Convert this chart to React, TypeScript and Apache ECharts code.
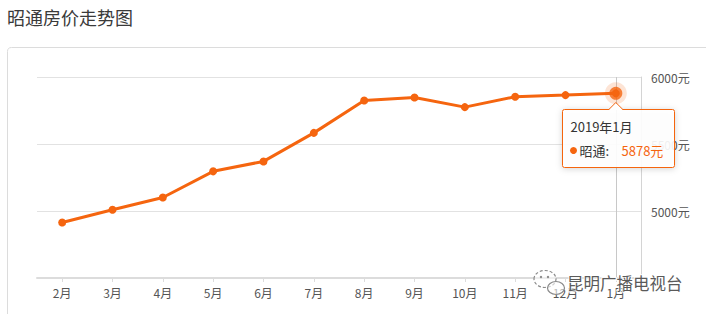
import React, { useEffect, useRef } from "react";
import * as echarts from "echarts";

const months = ["2月", "3月", "4月", "5月", "6月", "7月", "8月", "9月", "10月", "11月", "12月", "1月"];
const prices = [4914, 5009, 5101, 5296, 5370, 5583, 5825, 5847, 5775, 5853, 5865, 5878];
const yMin = 4500;
const yMax = 6000;
const yInterval = 500;
const seriesName = "昭通";
const tooltipTitle = "2019年1月";
const chartTitle = "昭通房价走势图";
const watermark = "昆明广播电视台";
const unit = "元";

const ORANGE = "#f5650f";
const FONT = "'Noto Sans CJK SC', 'Noto Sans', sans-serif";

export default function App() {
  const ref = useRef<HTMLDivElement>(null);
  useEffect(() => {
    document.body.style.margin = "0";
    const chart = echarts.init(ref.current!, null, { renderer: "svg" });
    const last = prices.length - 1;
    const single = prices.map((v, i) => (i === last ? v : "-"));
    chart.setOption({
      animation: false,
      textStyle: { fontFamily: FONT },
      grid: { left: 37, right: 65, top: 77, bottom: 36 },
      xAxis: {
        type: "category",
        data: months,
        boundaryGap: true,
        axisLine: { lineStyle: { color: "#dcdcdc", width: 2 } },
        axisTick: { show: true, alignWithLabel: true, length: 4, lineStyle: { color: "#dcdcdc" } },
        axisLabel: { color: "#555", fontSize: 12, margin: 8, fontFamily: FONT },
        splitLine: { show: false },
      },
      yAxis: {
        type: "value",
        position: "right",
        min: yMin,
        max: yMax,
        interval: yInterval,
        axisLine: { show: true, lineStyle: { color: "#d4d4d4", width: 1 } },
        axisTick: { show: false },
        axisLabel: {
          color: "#555",
          fontSize: 12,
          margin: 10,
          showMinLabel: false,
          fontFamily: FONT,
          formatter: (v: number) => v + unit,
        },
        splitLine: { lineStyle: { color: "#e2e2e2", width: 1 } },
      },
      series: [
        {
          name: seriesName,
          type: "line",
          data: prices,
          symbol: "circle",
          symbolSize: 8,
          showSymbol: true,
          itemStyle: { color: ORANGE },
          lineStyle: { color: ORANGE, width: 3 },
          z: 3,
        },
        {
          type: "scatter",
          data: single,
          symbol: "circle",
          symbolSize: 22,
          silent: true,
          itemStyle: { color: "rgba(245,101,15,0.22)" },
          z: 4,
        },
        {
          type: "scatter",
          data: single,
          symbol: "circle",
          symbolSize: 13,
          silent: true,
          itemStyle: { color: ORANGE },
          z: 5,
        },
      ],
    });

    const [px, py] = chart.convertToPixel({ seriesIndex: 0 }, [last, prices[last]]) as number[];
    const yTop = chart.convertToPixel({ yAxisIndex: 0 }, yMax) as number;
    const yBot = chart.convertToPixel({ yAxisIndex: 0 }, yMin) as number;
    const bw = 112;
    const bh = 58;
    const bx = Math.round(px - 54) + 0.5;
    const by = Math.round(py + 16) + 0.5;

    chart.setOption({
      graphic: [
        {
          type: "text",
          left: 7,
          top: 8,
          style: { text: chartTitle, fontSize: 18, fill: "#3a3a3a", fontFamily: FONT },
        },
        {
          type: "rect",
          shape: { x: 7.5, y: 47.5, width: 760, height: 320, r: 4 },
          style: { fill: "none", stroke: "#dcdcdc", lineWidth: 1 },
          silent: true,
          z: -1,
        },
        {
          type: "line",
          shape: { x1: Math.round(px) + 0.5, y1: yTop, x2: Math.round(px) + 0.5, y2: yBot },
          style: { stroke: "#c8c8c8", lineWidth: 1 },
          silent: true,
          z: 1,
        },
        {
          type: "group",
          z: 100,
          children: [
            {
              type: "rect",
              shape: { x: bx, y: by, width: bw, height: bh, r: 2 },
              style: {
                fill: "rgba(255,255,255,0.9)",
                stroke: ORANGE,
                lineWidth: 1,
                shadowBlur: 6,
                shadowColor: "rgba(0,0,0,0.18)",
                shadowOffsetY: 1,
              },
              z: 100,
            },
            {
              type: "polygon",
              shape: { points: [[px - 7, by + 0.6], [px, by - 6.5], [px + 7, by + 0.6]] },
              style: { fill: "#fff" },
              z: 101,
            },
            {
              type: "polyline",
              shape: { points: [[px - 7, by], [px, by - 7], [px + 7, by]] },
              style: { stroke: ORANGE, lineWidth: 1, fill: "none" },
              z: 102,
            },
            {
              type: "text",
              x: bx + 8,
              y: by + 17,
              style: { text: tooltipTitle, fontSize: 13, fill: "#333", verticalAlign: "middle", fontFamily: FONT },
              z: 103,
            },
            {
              type: "circle",
              shape: { cx: bx + 11, cy: by + 41, r: 3.5 },
              style: { fill: ORANGE },
              z: 103,
            },
            {
              type: "text",
              x: bx + 17,
              y: by + 41,
              style: { text: seriesName + ":", fontSize: 13, fill: "#333", verticalAlign: "middle", fontFamily: FONT },
              z: 103,
            },
            {
              type: "text",
              x: bx + 59,
              y: by + 41,
              style: { text: prices[last] + unit, fontSize: 13, fill: ORANGE, verticalAlign: "middle", fontFamily: FONT },
              z: 103,
            },
          ],
        },
        {
          type: "group",
          z: 200,
          silent: true,
          children: [
            {
              type: "ellipse",
              shape: { cx: 545, cy: 279, rx: 11, ry: 8.5 },
              style: { fill: "rgba(255,255,255,0.5)", stroke: "#8a8a8a", lineWidth: 1.2, lineDash: [3, 2] },
              z: 200,
            },
            {
              type: "ellipse",
              shape: { cx: 556, cy: 288, rx: 8.5, ry: 6.5 },
              style: { fill: "rgba(255,255,255,0.6)", stroke: "#8a8a8a", lineWidth: 1.2 },
              z: 201,
            },
            {
              type: "circle",
              shape: { cx: 541, cy: 277, r: 1.2 },
              style: { fill: "#8a8a8a" },
              z: 202,
            },
            {
              type: "circle",
              shape: { cx: 548, cy: 277, r: 1.2 },
              style: { fill: "#8a8a8a" },
              z: 202,
            },
            {
              type: "text",
              x: 567,
              y: 283,
              style: {
                text: watermark,
                fontSize: 16.5,
                fill: "#5a5a5a",
                stroke: "rgba(255,255,255,0.9)",
                lineWidth: 2,
                verticalAlign: "middle",
                fontFamily: FONT,
              },
              z: 203,
            },
          ],
        },
      ],
    });
    return () => chart.dispose();
  }, []);
  return <div ref={ref} style={{ width: 706, height: 314 }} />;
}
